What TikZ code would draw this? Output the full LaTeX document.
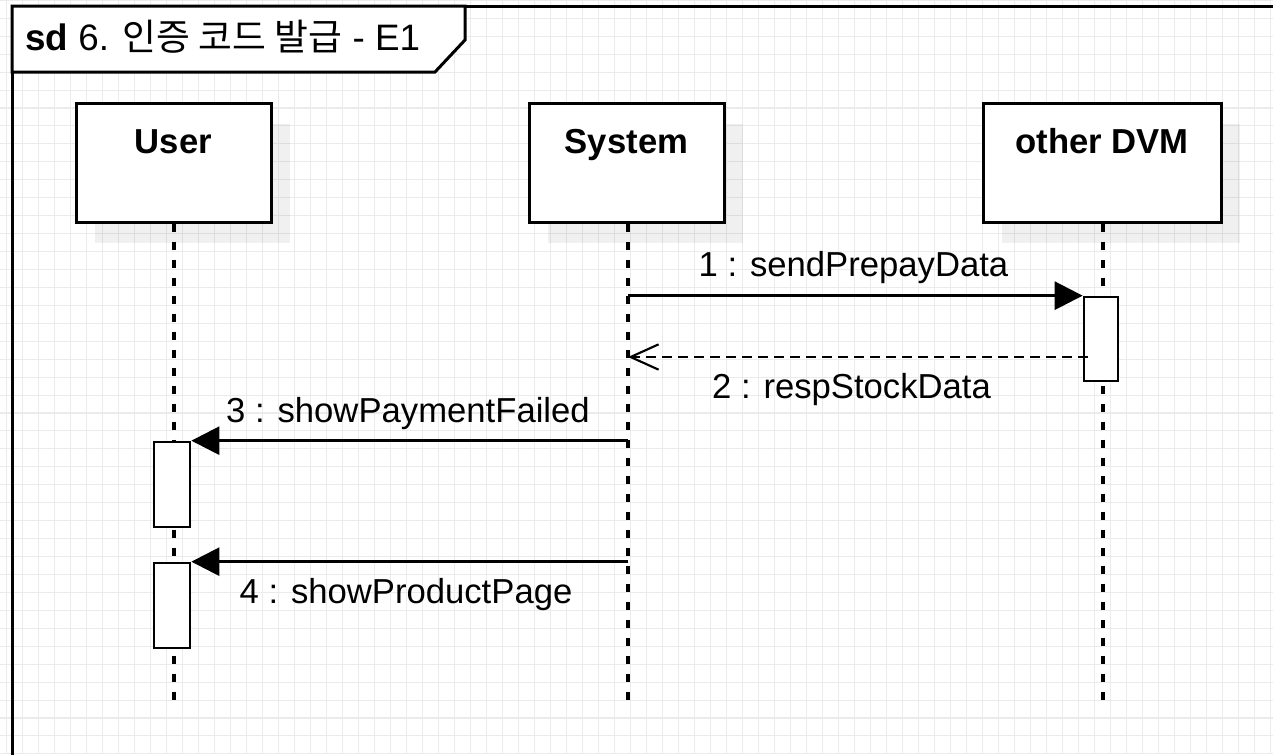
\documentclass[tikz,border=0pt]{standalone}
\usepackage{fontspec}
\setmainfont{Liberation Sans}
\newfontfamily\krfont{Noto Sans CJK KR}
\usetikzlibrary{arrows.meta}
\definecolor{gridc}{HTML}{EBEBEB}
\tikzset{
  headbox/.style={draw=black, line width=2.25pt, fill=white, inner sep=0pt, minimum width=146.25pt, minimum height=89.25pt},
  shadowbox/.style={fill=black, fill opacity=0.06, draw=none, inner sep=0pt, minimum width=146.25pt, minimum height=89.25pt},
  headtext/.style={font=\fontsize{26pt}{30pt}\selectfont\bfseries, anchor=base, inner sep=0pt},
  lifeline/.style={draw=black, line width=2.4pt, dash pattern=on 6pt off 7.5pt},
  actbox/.style={draw=black, line width=2pt, fill=white, inner sep=0pt, minimum width=27pt, minimum height=63.75pt},
  callmsg/.style={draw=black, line width=2.1pt, -{Triangle[length=21pt, width=21pt]}},
  retmsg/.style={draw=black, line width=2.1pt, dash pattern=on 7.5pt off 4.5pt, -{Straight Barb[length=21pt, width=19pt, line width=1.6pt]}},
  msgtext/.style={font=\fontsize{26pt}{30pt}\selectfont, anchor=base, inner sep=0pt},
  framestyle/.style={draw=black, line width=2.25pt}
}
\begin{document}
\begin{tikzpicture}[x=0.75pt, y=-0.75pt]
\useasboundingbox (0,0) rectangle (1273,754);
\clip (0,0) rectangle (1273,754);
\fill[white] (0,0) rectangle (1273,754);
% grid
\foreach \i in {0,...,79} { \draw[gridc, line width=0.8pt] (6.7+16*\i,0) -- (6.7+16*\i,754); }
\foreach \j in {0,...,42} { \draw[gridc, line width=0.8pt] (0,0.36+17.94*\j) -- (1273,0.36+17.94*\j); }
% frame
\draw[framestyle] (12,6) rectangle (1300,800);
\draw[framestyle, fill=white] (12,6) -- (465,6) -- (465,40) -- (435,72) -- (12,72) -- cycle;
\node[anchor=base west, inner sep=0pt, font=\fontsize{27.6pt}{32pt}\selectfont] (title) at (25,50) {\textbf{sd} 6. {\krfont 인증 코드 발급} - E1};
% shadows
\node[shadowbox] (ushadow) at (192.5,183.5) {};
\node[shadowbox] (sshadow) at (645.5,183) {};
\node[shadowbox, minimum width=178.5pt] (dshadow) at (1121,183.5) {};
% heads
\node[headbox] (user) at (173.5,162.5) {};
\node[headbox] (sys) at (626.5,162.5) {};
\node[headbox, minimum width=178.5pt] (dvm) at (1102,162.5) {};
\node[headtext] (usert) at (173.5,153.5) {User};
\node[headtext] (syst) at (626.5,153.5) {System};
\node[headtext] (dvmt) at (1102,153.5) {other DVM};
% lifeline ends
\coordinate (uend) at (174,704);
\coordinate (send) at (628,704);
\coordinate (dend) at (1103,704);
\draw[lifeline] (user.south -| uend) -- (uend);
\draw[lifeline] (sys.south -| send) -- (send);
\draw[lifeline] (dvm.south -| dend) -- (dend);
% activations
\node[actbox, minimum width=25.5pt, minimum height=63pt] (dact) at (1101,339) {};
\node[actbox] (ua1) at (172,484.5) {};
\node[actbox] (ua2) at (172,605.5) {};
% messages
\draw[callmsg] (dact.north west -| send) -- (dact.north west);
\node[msgtext] (m1) at (853.5,276.5) {1 : sendPrepayData};
\coordinate (r2) at (1088,357);
\draw[retmsg] (r2) -- (r2 -| send);
\node[msgtext] (m2) at (851.5,398.3) {2 : respStockData};
\draw[callmsg] (ua1.north east -| send) -- (ua1.north east);
\node[msgtext] (m3) at (408,422.3) {3 : showPaymentFailed};
\draw[callmsg] (ua2.north east -| send) -- (ua2.north east);
\node[msgtext] (m4) at (406,603.3) {4 : showProductPage};
\end{tikzpicture}
\end{document}
